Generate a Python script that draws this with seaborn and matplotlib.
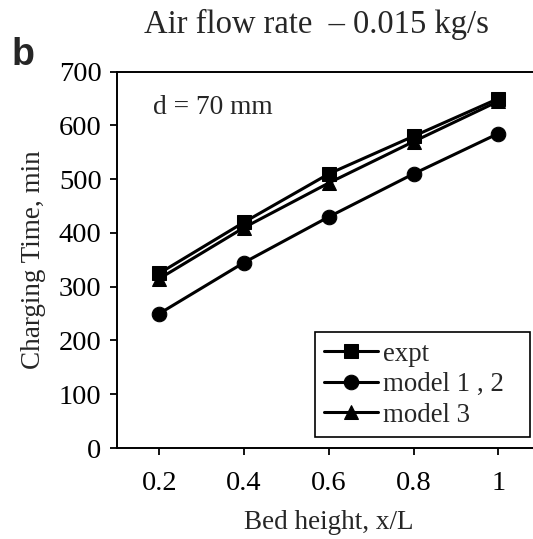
import matplotlib
matplotlib.use("Agg")
import matplotlib.pyplot as plt
import seaborn as sns
import pandas as pd

bed_height = [0.2, 0.4, 0.6, 0.8, 1.0]
expt = [325, 420, 510, 580, 650]
model_1_2 = [250, 345, 430, 510, 585]
model_3 = [315, 410, 493, 570, 645]
series_names = ["expt", "model 1 , 2", "model 3"]
x_tick_labels = ["0.2", "0.4", "0.6", "0.8", "1"]
y_ticks = [0, 100, 200, 300, 400, 500, 600, 700]

sns.set_style("ticks")
plt.rcParams['font.family'] = ['Liberation Serif', 'DejaVu Serif']

df = pd.DataFrame({
    "x": bed_height * 3,
    "y": expt + model_1_2 + model_3,
    "series": [series_names[0]] * 5 + [series_names[1]] * 5 + [series_names[2]] * 5,
})

fig = plt.figure(figsize=(5.33, 5.39), dpi=100)
W, H = 533, 539
left, right, top, bottom = 116.9, 540.7, 71.7, 448.0
ax = fig.add_axes([left / W, (H - bottom) / H, (right - left) / W, (bottom - top) / H])

markers = {"expt": "s", "model 1 , 2": "o", "model 3": "^"}
sizes = {"expt": 10.5, "model 1 , 2": 10.5, "model 3": 10.5}
for name in series_names:
    sub = df[df["series"] == name]
    sns.lineplot(data=sub, x="x", y="y", ax=ax, color="black", linewidth=2.2,
                 marker=markers[name], markersize=sizes[name], markeredgecolor="black",
                 markerfacecolor="black", label=name, zorder=3 if name == "expt" else 2)

ax.set_xlim(0.1, 1.1)
ax.set_ylim(0, 700)
ax.set_xticks(bed_height)
ax.set_xticklabels(x_tick_labels)
ax.set_yticks(y_ticks)
ax.tick_params(axis="both", direction="out", length=5, width=1.3, labelsize=20.5, colors="black")
ax.tick_params(axis="y", pad=6)
ax.tick_params(axis="x", pad=11.3)
for s in ["top", "left", "bottom", "right"]:
    ax.spines[s].set_linewidth(1.4)
    ax.spines[s].set_color("black")

ax.set_xlabel("Bed height, x/L", fontsize=19.5, labelpad=10)
ax.set_ylabel("Charging Time, min", fontsize=19.5, labelpad=9)

fig.text(153 / W, (H - 114) / H, "d = 70 mm", fontsize=19.8,
         va="baseline", ha="left")
fig.text(316.5 / W, (H - 33) / H, "Air flow rate  \u2013 0.015 kg/s", fontsize=23.5,
         ha="center", va="baseline")
fig.text(22.5 / W, (H - 65) / H, "b", fontsize=27, fontweight="bold",
         family="Liberation Sans", ha="center", va="baseline")

leg = ax.legend(loc="lower left",
                bbox_to_anchor=(315 / W, (H - 437) / H, 215 / W, 111 / H),
                bbox_transform=fig.transFigure, mode="expand", borderaxespad=0,
                fontsize=19.4, frameon=True, fancybox=False, edgecolor="black",
                handlelength=2.0, handletextpad=0.17, borderpad=0.35, labelspacing=0.2)
leg.get_frame().set_linewidth(1.2)
leg.get_frame().set_alpha(1)

fig.savefig("out.png", dpi=100)
